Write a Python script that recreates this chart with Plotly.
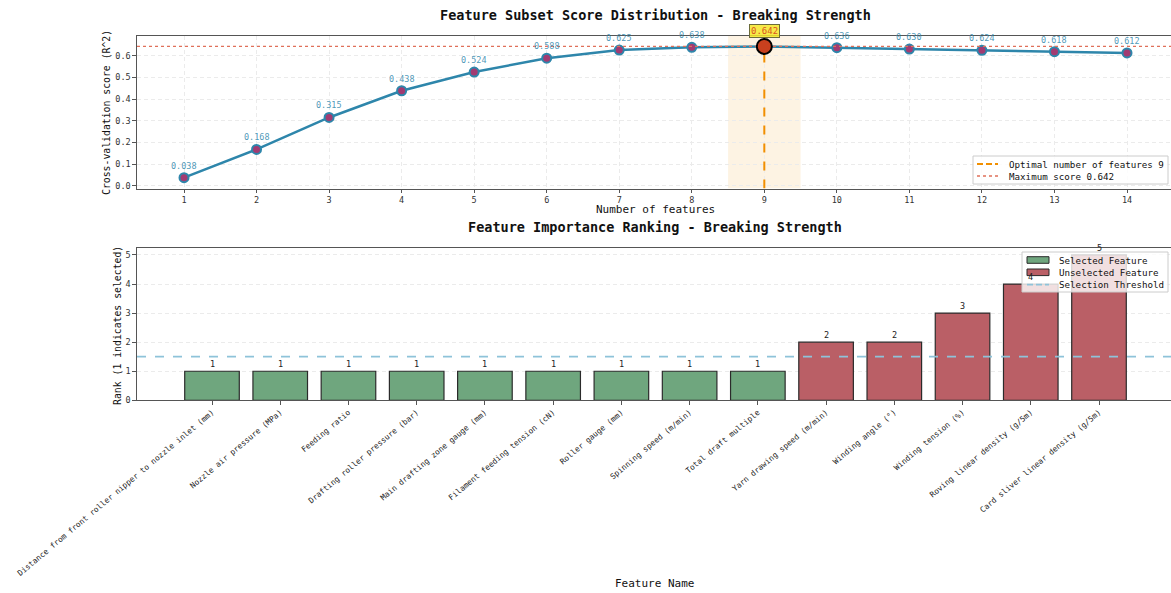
import plotly.graph_objects as go

# ---- data ----
n_features = list(range(1, 15))
cv_scores = [0.038, 0.168, 0.315, 0.438, 0.524, 0.588, 0.625, 0.638,
             0.642, 0.636, 0.630, 0.624, 0.618, 0.612]

feature_names = [
    "Distance from front roller nipper to nozzle inlet (mm)",
    "Nozzle air pressure (MPa)",
    "Feeding ratio",
    "Drafting roller pressure (bar)",
    "Main drafting zone gauge (mm)",
    "Filament feeding tension (cN)",
    "Roller gauge (mm)",
    "Spinning speed (m/min)",
    "Total draft multiple",
    "Yarn drawing speed (m/min)",
    "Winding angle (°)",
    "Winding tension (%)",
    "Roving linear density (g/5m)",
    "Card sliver linear density (g/5m)",
]
ranks = [1, 1, 1, 1, 1, 1, 1, 1, 1, 2, 2, 3, 4, 5]
threshold = 1.5

# ---- derived ----
best_idx = max(range(len(cv_scores)), key=lambda i: cv_scores[i])
best_n = n_features[best_idx]
best_score = cv_scores[best_idx]

FONT = "DejaVu Sans Mono"
LINE_C = "#2E86AB"
PT_C = "#A23B72"
OPT_C = "#F18F01"
MAX_C = "#E0705A"
GREEN = "#6FA67E"
RED = "#BA5F66"
THR_C = "#8EC3D9"
AX_C = "#555555"
EDGE = "#2b2b2b"
GRID_C = "#ebebeb"

W, H = 1171, 593


def px(x):
    return x / W


def py(y):
    return 1 - y / H


x0_px = 137
top_dom = [py(188.5), py(36)]
bot_dom = [py(400.3), py(247.7)]

# top x range: 1 -> 184px, 14 -> 1127px
u_top = (1127 - 184) / 13
xr_top = [1 - (184 - x0_px) / u_top, 14 + (W - 1127) / u_top]
yr_top = [-0.012, 0.690]

# bottom x range: index 0 -> 212px, 13 -> 1099px
u_bot = (1099 - 212) / 13
xr_bot = [-(212 - x0_px) / u_bot, 13 + (W - 1099) / u_bot]
yr_bot = [0, 5.25]

fig = go.Figure()
shapes = []
annotations = []


def paper_text(x, y, text, font, xanchor="center", angle=0):
    return dict(x=px(x), y=py(y), xref="paper", yref="paper", showarrow=False,
                text=text, font=font, xanchor=xanchor, yanchor="middle",
                textangle=angle)


# highlighted band around the optimum
shapes.append(dict(type="rect", xref="x", yref="y",
                   x0=best_n - 0.5, x1=best_n + 0.5, y0=yr_top[0], y1=yr_top[1],
                   fillcolor="rgba(241,143,1,0.11)", line_width=0, layer="below"))

# score curve
fig.add_trace(go.Scatter(
    x=n_features, y=cv_scores, mode="lines+markers",
    line=dict(color=LINE_C, width=2.5),
    marker=dict(size=9, color=PT_C, line=dict(color=LINE_C, width=2)),
    showlegend=False, xaxis="x", yaxis="y", hoverinfo="skip"))

# optimal number of features (vertical dashed)
fig.add_trace(go.Scatter(
    x=[best_n, best_n], y=[yr_top[0], best_score], mode="lines",
    line=dict(color=OPT_C, width=2, dash="dash"),
    name=f"Optimal number of features {best_n}", showlegend=False,
    xaxis="x", yaxis="y"))

# maximum score (horizontal dotted)
fig.add_trace(go.Scatter(
    x=xr_top, y=[best_score, best_score], mode="lines",
    line=dict(color=MAX_C, width=1.3, dash="dot"),
    name=f"Maximum score {best_score:.3f}", showlegend=False,
    xaxis="x", yaxis="y"))

# optimum marker
fig.add_trace(go.Scatter(
    x=[best_n], y=[best_score], mode="markers",
    marker=dict(size=15, color="#C8401E", line=dict(color="black", width=2)),
    showlegend=False, xaxis="x", yaxis="y"))

for n, s in zip(n_features, cv_scores):
    if n == best_n:
        continue
    annotations.append(dict(
        x=n, y=s, xref="x", yref="y", text=f"{s:.3f}", showarrow=False,
        xanchor="center", yanchor="middle", yshift=12,
        font=dict(family=FONT, size=8.5, color="rgba(46,134,171,0.85)")))

annotations.append(dict(
    x=best_n, y=best_score, xref="x", yref="y", text=f"{best_score:.3f}",
    showarrow=False, xanchor="center", yanchor="middle", yshift=15,
    font=dict(family=FONT, size=9, color="#D9541E"),
    bgcolor="rgba(245,230,40,0.85)", bordercolor="#6b6b3a", borderwidth=1,
    borderpad=1))

# ---- bottom: feature ranking ----
idx = list(range(len(feature_names)))
sel_x = [i for i in idx if ranks[i] == 1]
sel_y = [ranks[i] for i in sel_x]
uns_x = [i for i in idx if ranks[i] != 1]
uns_y = [ranks[i] for i in uns_x]

fig.add_trace(go.Bar(
    x=sel_x, y=sel_y, width=0.8, name="Selected Feature", showlegend=False,
    marker=dict(color=GREEN, line=dict(color=EDGE, width=1.2)),
    xaxis="x2", yaxis="y2"))
fig.add_trace(go.Bar(
    x=uns_x, y=uns_y, width=0.8, name="Unselected Feature", showlegend=False,
    marker=dict(color=RED, line=dict(color=EDGE, width=1.2)),
    xaxis="x2", yaxis="y2"))
fig.add_trace(go.Scatter(
    x=xr_bot, y=[threshold, threshold], mode="lines",
    line=dict(color=THR_C, width=1.8, dash="dash"),
    name="Selection Threshold", showlegend=False, xaxis="x2", yaxis="y2"))

for i, r in zip(idx, ranks):
    annotations.append(dict(
        x=i, y=r, xref="x2", yref="y2", text=str(r), showarrow=False,
        xanchor="center", yanchor="middle", yshift=7,
        font=dict(family=FONT, size=8.5, color="#222222")))

# ---- titles and axis labels ----
title_font = dict(family=FONT, size=13.5, color="#111111")
label_font = dict(family=FONT, size=11, color="#111111")
ylabel_font = dict(family=FONT, size=9.8, color="#111111")

annotations += [
    paper_text(655, 15, "<b>Feature Subset Score Distribution - Breaking Strength</b>",
               title_font),
    paper_text(655, 227, "<b>Feature Importance Ranking - Breaking Strength</b>",
               title_font),
    paper_text(655, 209, "Number of features", label_font),
    paper_text(654, 583, "Feature Name", label_font),
    paper_text(106, 113, "Cross-validation score (R^2)", ylabel_font, angle=-90),
    paper_text(117, 326, "Rank (1 indicates selected)", ylabel_font, angle=-90),
]

# ---- legends ----
leg_font = dict(family=FONT, size=9.2, color="#111111")

# top legend
shapes.append(dict(type="rect", xref="paper", yref="paper",
                   x0=px(973), x1=px(1168), y0=py(184), y1=py(156),
                   fillcolor="rgba(255,255,255,0.85)",
                   line=dict(color="#cccccc", width=1)))
top_items = [
    (f"Optimal number of features {best_n}", OPT_C, "6px,3px", 2, 164),
    (f"Maximum score {best_score:.3f}", MAX_C, "dot", 1.3, 176),
]
for text, col, dash, lw, yy in top_items:
    shapes.append(dict(type="line", xref="paper", yref="paper",
                       x0=px(977), x1=px(998), y0=py(yy), y1=py(yy),
                       line=dict(color=col, width=lw, dash=dash)))
    annotations.append(paper_text(1007, yy, text, leg_font, xanchor="left"))

# bottom legend
shapes.append(dict(type="rect", xref="paper", yref="paper",
                   x0=px(1022), x1=px(1168), y0=py(292), y1=py(252),
                   fillcolor="rgba(255,255,255,0.8)",
                   line=dict(color="#cccccc", width=1)))
for text, col, yy in [("Selected Feature", GREEN, 260),
                      ("Unselected Feature", RED, 272.3)]:
    shapes.append(dict(type="rect", xref="paper", yref="paper",
                       x0=px(1027), x1=px(1049), y0=py(yy + 3.3), y1=py(yy - 3.3),
                       fillcolor=col, line=dict(color=EDGE, width=1)))
    annotations.append(paper_text(1057, yy, text, leg_font, xanchor="left"))
shapes.append(dict(type="line", xref="paper", yref="paper",
                   x0=px(1027), x1=px(1049), y0=py(284.6), y1=py(284.6),
                   line=dict(color=THR_C, width=1.8, dash="6px,3px")))
annotations.append(paper_text(1057, 284.6, "Selection Threshold", leg_font,
                              xanchor="left"))

axis_common = dict(showline=True, linecolor=AX_C, linewidth=1.2, mirror=True,
                   ticks="outside", ticklen=3.5, tickcolor=AX_C,
                   tickfont=dict(family=FONT, size=8.5, color="#333333"),
                   zeroline=False, automargin=False)
grid = dict(showgrid=True, gridcolor=GRID_C, griddash="4px,3px", gridwidth=0.8)

fig.update_layout(
    width=W, height=H,
    margin=dict(l=0, r=0, t=0, b=0, autoexpand=False),
    plot_bgcolor="white", paper_bgcolor="white",
    font=dict(family=FONT, color="#222222"),
    barmode="overlay", showlegend=False,
    shapes=shapes,
    annotations=annotations,
    xaxis=dict(domain=[px(x0_px), 1], range=xr_top, anchor="y",
               tickmode="array", tickvals=n_features,
               **grid, **axis_common),
    yaxis=dict(domain=top_dom, range=yr_top, anchor="x",
               tickmode="array", tickvals=[0, 0.1, 0.2, 0.3, 0.4, 0.5, 0.6],
               ticktext=["0.0", "0.1", "0.2", "0.3", "0.4", "0.5", "0.6"],
               **grid, **axis_common),
    xaxis2=dict(domain=[px(x0_px), 1], range=xr_bot, anchor="y2",
                tickmode="array", tickvals=idx, ticktext=feature_names,
                tickangle=-40, showgrid=False,
                **{**axis_common,
                   "tickfont": dict(family=FONT, size=7.8, color="#222222")}),
    yaxis2=dict(domain=bot_dom, range=yr_bot, anchor="x2",
                tickmode="array", tickvals=[0, 1, 2, 3, 4, 5],
                **grid, **axis_common),
)

fig.write_html("out.html")
